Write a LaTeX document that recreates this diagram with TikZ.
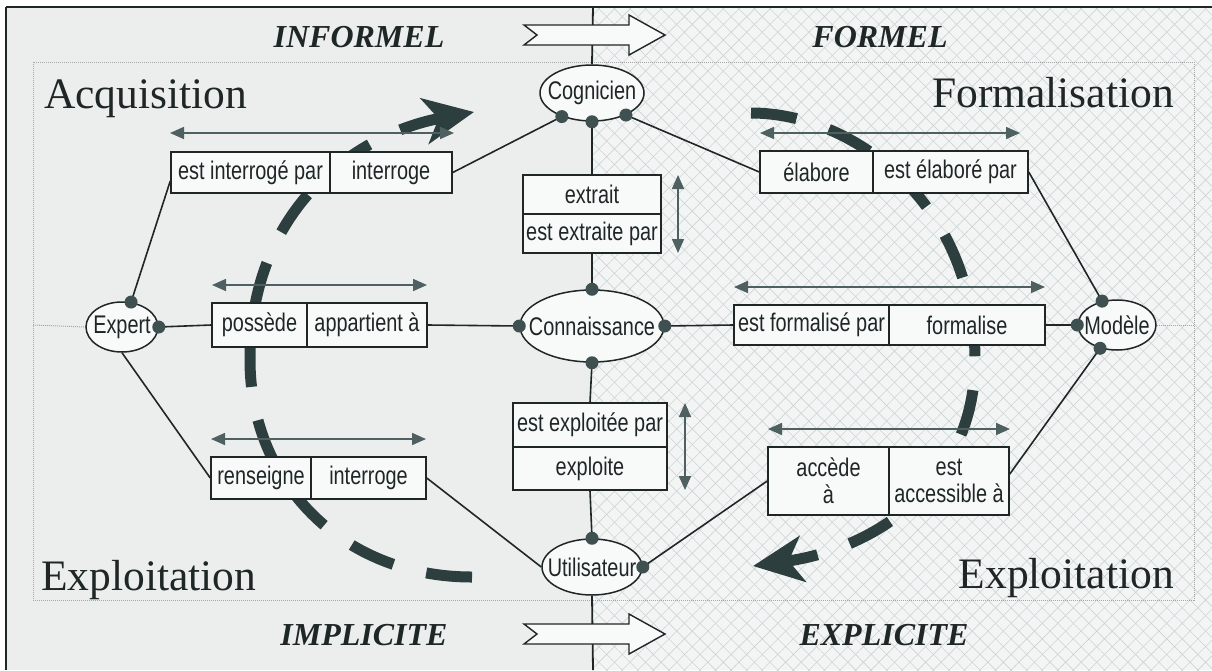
\documentclass[tikz,border=0pt]{standalone}
\usepackage{fontspec}
\setmainfont{Liberation Serif}
\newfontfamily\boxfont[FakeStretch=0.78]{Liberation Sans}
\usetikzlibrary{shapes.geometric,arrows.meta,patterns.meta,calc}
\definecolor{leftbg}{HTML}{ECEEEE}
\definecolor{rightbg}{HTML}{F3F5F5}
\definecolor{hatch}{HTML}{CDD3D3}
\definecolor{ink}{HTML}{1F2626}
\definecolor{dotc}{HTML}{3E5050}
\definecolor{arrc}{HTML}{4F6060}
\definecolor{bigarr}{HTML}{2C3E3E}
\definecolor{boxfill}{HTML}{F8FAFA}
\pgfdeclarelayer{back}
\pgfdeclarelayer{mid}
\pgfsetlayers{back,mid,main}
\begin{document}
\begin{tikzpicture}[x=1pt,y=-1pt,
  cell/.style={draw=ink, line width=1.5pt, fill=boxfill, inner sep=0pt, font=\boxfont\fontsize{25.5}{27}\selectfont, text=ink, align=center},
  ent/.style={ellipse, draw=ink, line width=1.5pt, fill=boxfill, inner sep=0pt, font=\boxfont\fontsize{25.5}{27}\selectfont, text=ink},
  link/.style={draw=ink, line width=1.6pt},
  dotmark/.style={circle, fill=dotc, inner sep=0pt, minimum size=13pt},
  dbl/.style={draw=arrc, line width=1.6pt, {Triangle[length=14pt,width=12pt]}-{Triangle[length=14pt,width=12pt]}},
  bigdash/.style={draw=bigarr, line width=11pt, dash pattern=on 46pt off 34pt, -{Stealth[length=50pt,width=46pt,inset=14pt]}},
  blockarrow/.style={draw=ink, line width=1.4pt, fill=boxfill},
  frameline/.style={draw=ink, line width=2pt},
  guide/.style={draw=gray!70, densely dotted, line width=1pt},
  title/.style={font=\fontsize{32}{36}\selectfont\bfseries\itshape, text=ink},
  phase/.style={font=\fontsize{43.5}{48}\selectfont, text=ink, inner sep=0pt},
]
\useasboundingbox (0,0) rectangle (1212,670);

% ---------- nodes ----------
\node[ent, minimum width=104pt, minimum height=56pt] (cog) at (592,93) {\makebox[0pt]{Cognicien}};
\node[ent, minimum width=144pt, minimum height=72pt] (conn) at (592,326) {\makebox[0pt]{Connaissance}};
\node[ent, minimum width=72pt, minimum height=50pt] (exp) at (122,327) {\makebox[0pt]{Expert}};
\node[ent, minimum width=78pt, minimum height=50pt] (mod) at (1117,325) {\makebox[0pt]{Modèle}};
\node[ent, minimum width=100pt, minimum height=56pt] (util) at (592,567) {\makebox[0pt]{Utilisateur}};

\node[cell, minimum width=159pt, minimum height=41pt] (b1l) at (250.5,172.5) {est interrogé par};
\node[cell, minimum width=122pt, minimum height=41pt] (b1r) at (391,172.5) {interroge};
\node[cell, minimum width=95pt, minimum height=44pt] (b2l) at (259.5,325) {possède};
\node[cell, minimum width=120pt, minimum height=44pt] (b2r) at (367,325) {appartient à};
\node[cell, minimum width=100pt, minimum height=42pt] (b3l) at (261,478) {renseigne};
\node[cell, minimum width=115pt, minimum height=42pt] (b3r) at (368.5,478) {interroge};
\node[cell, minimum width=138pt, minimum height=39pt] (b4t) at (592,194.5) {extrait};
\node[cell, minimum width=138pt, minimum height=39pt] (b4b) at (592,233.5) {est extraite par};
\node[cell, minimum width=154pt, minimum height=44pt] (b5t) at (590,425) {est exploitée par};
\node[cell, minimum width=154pt, minimum height=43pt] (b5b) at (590,468.5) {exploite};
\node[cell, minimum width=113pt, minimum height=42pt] (b6l) at (816.5,172) {élabore};
\node[cell, minimum width=155pt, minimum height=42pt] (b6r) at (950.5,172) {est élaboré par};
\node[cell, minimum width=155pt, minimum height=40pt] (b7l) at (811.5,325) {est formalisé par};
\node[cell, minimum width=156pt, minimum height=40pt] (b7r) at (967,325) {formalise};
\node[cell, minimum width=121pt, minimum height=68pt] (b8l) at (828.5,481) {accède\\à};
\node[cell, minimum width=120pt, minimum height=68pt] (b8r) at (949,481) {est\\accessible à};

% ---------- background ----------
\begin{pgfonlayer}{back}
  \fill[white] (0,0) rectangle (1212,670);
  \fill[leftbg] (6,7) rectangle (593,670);
  \fill[rightbg] (593,7) rectangle (1212,670);
  \fill[pattern={Lines[angle=45,distance=11pt,line width=0.6pt]}, pattern color=hatch] (593,7) rectangle (1212,670);
  \fill[pattern={Lines[angle=-45,distance=11pt,line width=0.6pt]}, pattern color=hatch] (593,7) rectangle (1212,670);
  \draw[frameline] (6,7) -- (1212,7);
  \draw[frameline] (6,7) -- (6,670);
  \draw[guide] (33,62) rectangle (1194,600);
  \coordinate (gl) at (33,325);
  \coordinate (gr) at (1194,325);
  \draw[guide] (gl) -- (exp.west);
  \draw[guide] (mod.east) -- (gr);
  \coordinate (topc) at (593,7);
  \coordinate (botc) at (593,670);
  \draw[link, line width=1.8pt] (topc) -- (cog.north);
  \draw[link, line width=1.8pt] (util.south) -- (botc);
  % block arrows
  \draw[blockarrow] (524,25) -- (629,25) -- (629,15) -- (665,35) -- (629,55) -- (629,45) -- (524,45) -- (537,35) -- cycle;
  \draw[blockarrow] (524,624) -- (629,624) -- (629,614) -- (665,634) -- (629,654) -- (629,644) -- (524,644) -- (537,634) -- cycle;
  % titles
  \node[title, anchor=base] (tinf) at (359,47) {INFORMEL};
  \node[title, anchor=base] (tfor) at (880,47) {FORMEL};
  \node[title, anchor=base] (timp) at (364,645) {IMPLICITE};
  \node[title, anchor=base] (texp) at (884,645) {EXPLICITE};
  \node[phase, anchor=base west] (pacq) at (44,108) {Acquisition};
  \node[phase, anchor=base east] (pfor) at (1174,107) {Formalisation};
  \node[phase, anchor=base west] (pex1) at (41,590) {Exploitation};
  \node[phase, anchor=base east] (pex2) at (1174,588) {Exploitation};
\end{pgfonlayer}

% ---------- big dashed cycle arrows ----------
\begin{pgfonlayer}{mid}
  \draw[bigdash] (472,577) .. controls (340,577) and (250,480) .. (250,360) .. controls (250,205) and (360,133) .. (474,112);
  \draw[bigdash] (751,113) .. controls (855,113) and (975,205) .. (975,360) .. controls (975,480) and (880,548) .. (753,566);
\end{pgfonlayer}

% ---------- double arrows ----------
\coordinate (a1s) at (170,133); \coordinate (a1e) at (454,133);
\coordinate (a2s) at (212,285); \coordinate (a2e) at (427,285);
\coordinate (a3s) at (211,439); \coordinate (a3e) at (426,439);
\coordinate (a4s) at (678,175); \coordinate (a4e) at (678,253);
\coordinate (a5s) at (685,403); \coordinate (a5e) at (685,490);
\coordinate (a6s) at (760,133); \coordinate (a6e) at (1020,133);
\coordinate (a7s) at (734,287); \coordinate (a7e) at (1045,287);
\coordinate (a8s) at (768,429); \coordinate (a8e) at (1010,429);
\foreach \a in {1,...,8} { \draw[dbl] (a\a s) -- (a\a e); }

% ---------- links ----------
\draw[link] (cog.218.7) -- (b1r.east);
\draw[link] (cog.-33) -- (b6l.west);
\draw[link] (cog.south) -- (b4t.north);
\draw[link] (b4b.south) -- (conn.north);
\draw[link] (conn.south) -- (b5t.north);
\draw[link] (b5b.south) -- (util.north);
\draw[link] (exp.70) -- ($(b1l.south west)!0.3!(b1l.north west)$);
\draw[link] (exp.east) -- (b2l.west);
\draw[link] (b2r.east) -- (conn.west);
\draw[link] (exp.south) -- (b3l.west);
\draw[link] (b3r.east) -- (util.west);
\draw[link] (conn.east) -- (b7l.west);
\draw[link] (b7r.east) -- (mod.west);
\draw[link] (b6r.east) -- (mod.122);
\draw[link] (util.east) -- (b8l.west);
\draw[link] ($(b8r.south east)!0.6!(b8r.north east)$) -- (mod.234);

% ---------- dots ----------
\foreach \p in {cog.218.7, cog.south, cog.-33, conn.west, conn.east, conn.north, conn.south, exp.70, exp.east, mod.122, mod.west, mod.234, util.north, util.east}
  { \node[dotmark] at (\p) {}; }
\end{tikzpicture}
\end{document}
